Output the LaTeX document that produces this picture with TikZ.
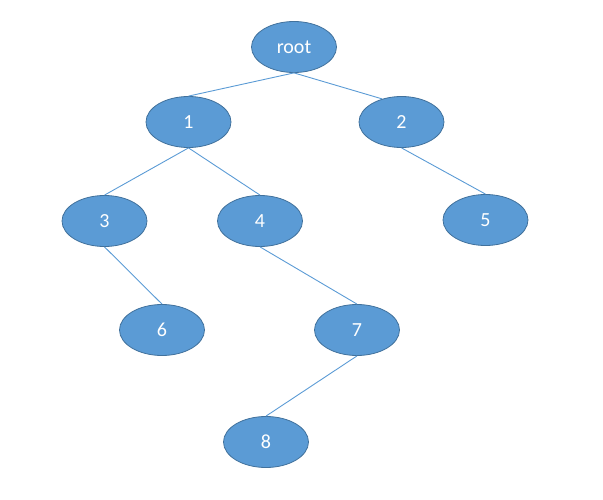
\documentclass[tikz,border=0pt]{standalone}
\usepackage{fontspec}
\setmainfont{Carlito}
\usetikzlibrary{shapes.geometric}
\definecolor{nodefill}{HTML}{5B9BD5}
\definecolor{nodeedge}{HTML}{41719C}
\definecolor{linkcol}{HTML}{5B9BD5}
\tikzset{
  treenode/.style={ellipse, fill=nodefill, draw=nodeedge, line width=0.8pt,
    minimum width=85pt, minimum height=51pt, inner sep=0pt,
    text=white, font=\fontsize{20}{22}\selectfont},
  link/.style={draw=linkcol, line width=0.9pt}
}
\begin{document}
\begin{tikzpicture}[x=1pt,y=1pt]
\useasboundingbox (0,0) rectangle (603,499);
\node[treenode] (root) at (294,452) {root};
\node[treenode] (n1) at (188.5,377) {1};
\node[treenode] (n2) at (401.5,377) {2};
\node[treenode] (n3) at (104.5,278) {3};
\node[treenode] (n4) at (260,278) {4};
\node[treenode] (n5) at (485.5,279) {5};
\node[treenode] (n6) at (162,169) {6};
\node[treenode] (n7) at (357,169) {7};
\node[treenode] (n8) at (266,57) {8};
\path[link] (root.south) -- (n1.north);
\path[link] (root.south) -- (n2.130);
\path[link] (n1.south) -- (n3.north);
\path[link] (n1.south) -- (n4.north);
\path[link] (n2.south) -- (n5.north);
\path[link] (n3.south) -- (n6.north);
\path[link] (n4.south) -- (n7.north);
\path[link] (n7.south) -- (n8.north);
\end{tikzpicture}
\end{document}
